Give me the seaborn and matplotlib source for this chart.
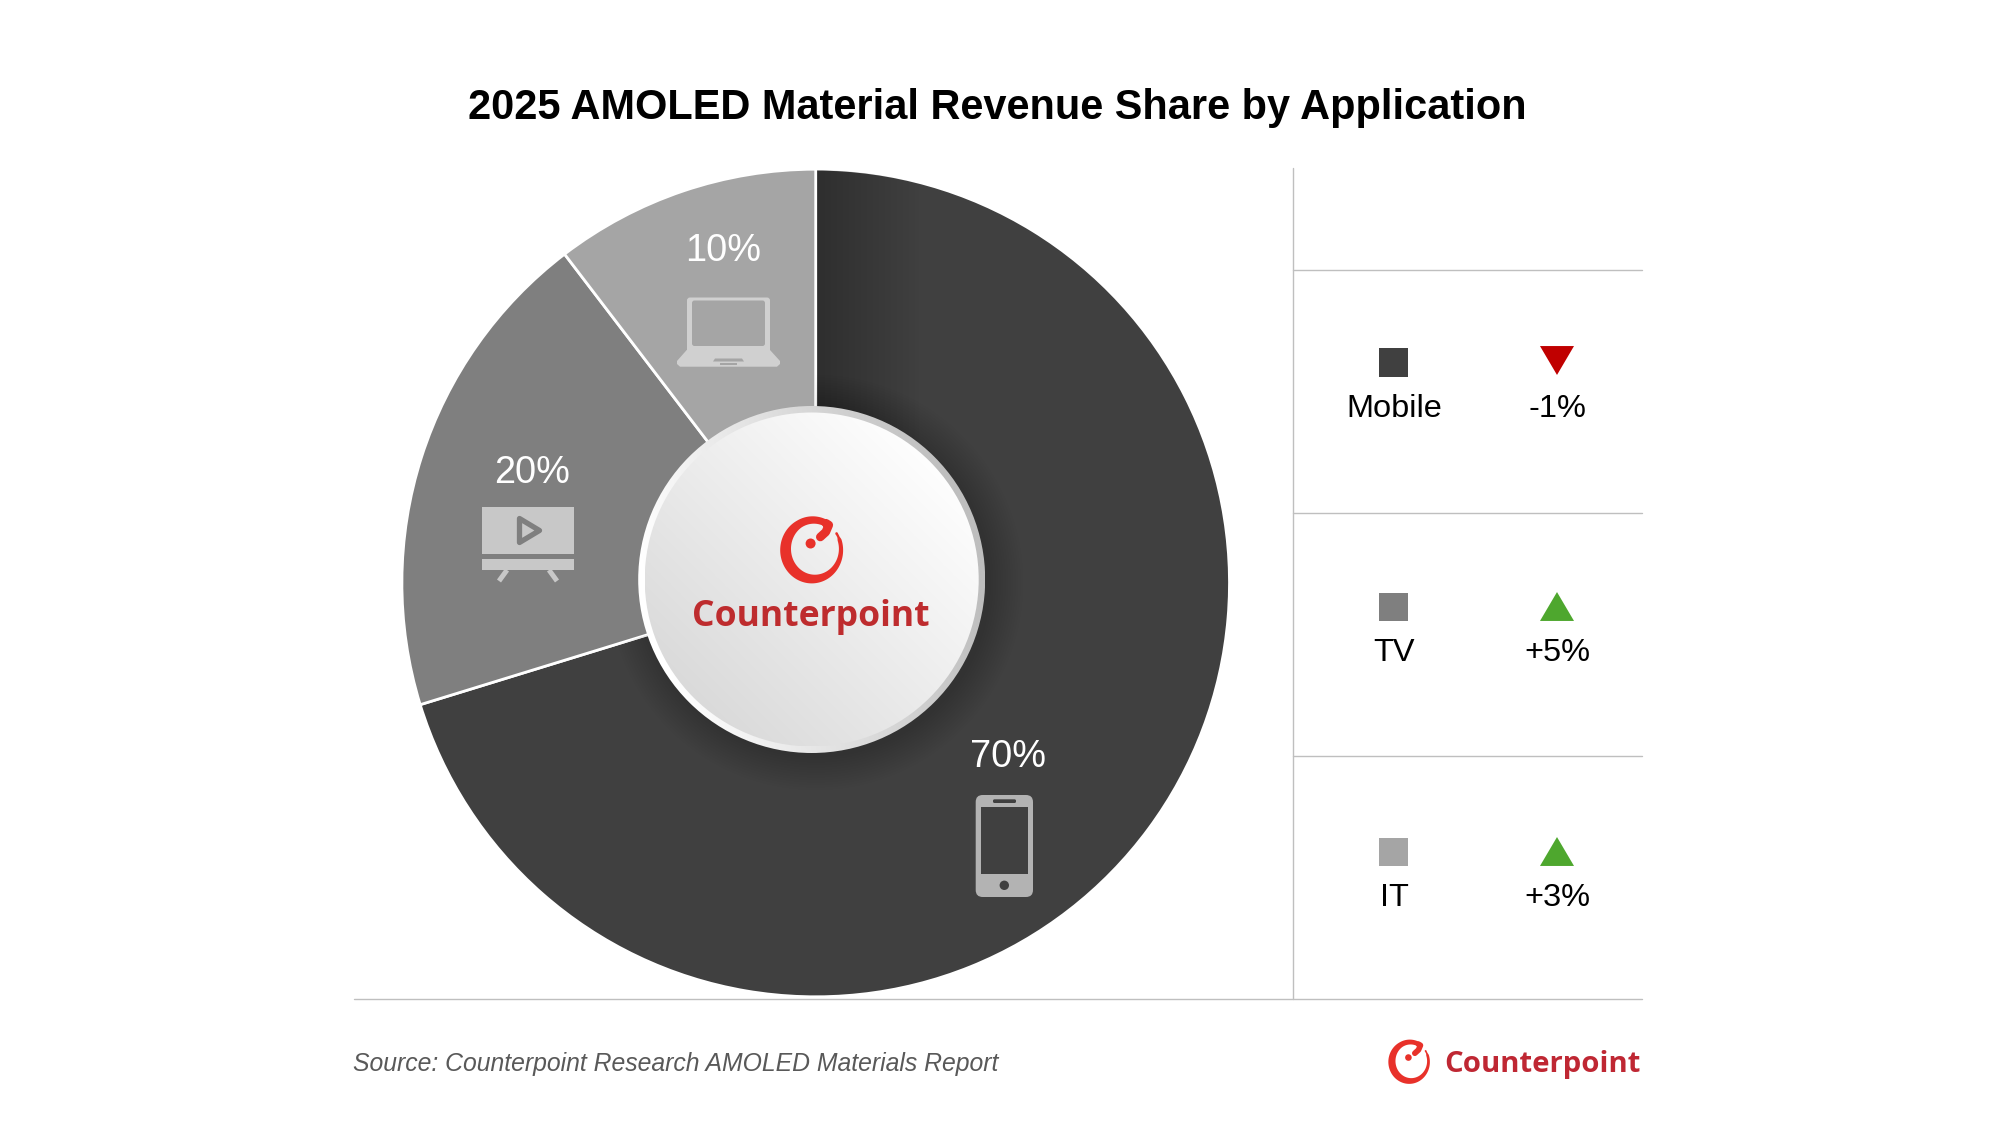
import numpy as np
import pandas as pd
import seaborn as sns
import matplotlib
matplotlib.use("Agg")
import matplotlib.pyplot as plt
from matplotlib.patches import Circle, Polygon, FancyBboxPatch, Rectangle, Wedge
from matplotlib.path import Path
from matplotlib.colors import LinearSegmentedColormap
from matplotlib.markers import MarkerStyle

# ---------- data ----------
title = "2025 AMOLED Material Revenue Share by Application"
source = "Source: Counterpoint Research AMOLED Materials Report"
categories = ["Mobile", "TV", "IT"]
shares = [70, 20, 10]            # printed labels
drawn_shares = [70.25, 19.37, 10.38]  # slice sizes
changes = [-1, 5, 3]
colors = ["#404040", "#7F7F7F", "#A5A5A5"]
brand = "Counterpoint"

W, H = 1997, 1125
sns.set_theme(style="white")
plt.rcParams["font.family"] = ["Liberation Sans", "DejaVu Sans"]
fig = plt.figure(figsize=(W / 100, H / 100), dpi=100, facecolor="white")

# ---------- pie ----------
CX, CY, R = 815.7, 583.0, 413.8
half = R * 1.25
pie_ax = fig.add_axes([(CX - half) / W, (H - CY - half) / H, 2 * half / W, 2 * half / H], zorder=1)
wedges, _ = pie_ax.pie(drawn_shares, colors=colors, startangle=90, counterclock=False, radius=1,
                       wedgeprops=dict(edgecolor="white", linewidth=2.0))
pie_ax.set_xlim(-1.25, 1.25)
pie_ax.set_ylim(-1.25, 1.25)
pie_ax.set_aspect("equal")
pie_ax.axis("off")

# ---------- pixel overlay ----------
ax = fig.add_axes([0, 0, 1, 1], zorder=2)
ax.patch.set_alpha(0)


def lim():
    ax.set_xlim(0, W)
    ax.set_ylim(H, 0)
    ax.set_xlabel("")
    ax.set_ylabel("")
    ax.set_axis_off()


lim()

# the overlay's y axis runs downward, so this wedge's angles run clockwise from the right
mobile_sweep = drawn_shares[0] * 3.6
mobile_clip = Wedge((CX, CY), R - 1.5, 270, 270 + mobile_sweep, transform=ax.transData)

# soft shade along the top of the mobile slice
grad = np.zeros((2, 200, 4))
grad[..., 3] = np.linspace(0.27, 0, 200)
im = ax.imshow(grad, extent=(CX + 1.5, CX + 105, CY, CY - R + 1), aspect="auto", zorder=1, interpolation="bilinear")
im.set_clip_path(Wedge((CX, CY), R - 1, 270, 360, transform=ax.transData))

# hub
HX, HY, HR, HI = 811.7, 579.5, 173.5, 167.0
for k in range(14):
    halo = Circle((HX + 4, HY + 3), HR + 34 - k * 2.5, fc="black", ec="none", alpha=0.007, zorder=2)
    ax.add_patch(halo)
    halo.set_clip_path(Wedge((CX, CY), R - 1.5, 270, 270 + mobile_sweep, transform=ax.transData))


def grad_disc(cx, cy, r, c0, c1, wx, wy, z):
    yy, xx = np.mgrid[-1:1:300j, -1:1:300j]
    t = (xx * wx - yy * wy) / (abs(wx) + abs(wy))
    t = (t + 1) / 2
    cmap = LinearSegmentedColormap.from_list("g", [c0, c1])
    im = ax.imshow(t, extent=(cx - r, cx + r, cy + r, cy - r), cmap=cmap, vmin=0.12, vmax=0.88,
                   aspect="auto", zorder=z, interpolation="bilinear")
    im.set_clip_path(Circle((cx, cy), r, transform=ax.transData))


grad_disc(HX, HY, HR, "#FFFFFF", "#BEBEBE", 1.0, 0.25, 3)
grad_disc(HX, HY, HI, "#D9D9D9", "#FFFFFF", 1.0, 1.0, 4)


def logo(cx, cy, s, z=5):
    red = "#E8312A"
    rx, ry = 27.7 * s, 29.5 * s
    th_d = np.linspace(33, -297, 160)
    th = np.radians(th_d)
    w = (7.5 + 3.5 * np.cos(th - np.radians(200))) * s
    w = w * np.clip((33 - th_d) / 14, 0.6, 1)
    w = w + np.clip((th_d + 240) / -57, 0, 1) * 2.0 * s
    xo = cx + (rx + w / 2) * np.cos(th)
    yo = cy - (ry + w / 2) * np.sin(th)
    xi = cx + (rx - w / 2) * np.cos(th)
    yi = cy - (ry - w / 2) * np.sin(th)
    ax.add_patch(Polygon(np.c_[np.r_[xo, xi[::-1]], np.r_[yo, yi[::-1]]], closed=True, fc=red, ec="none", zorder=z))
    ax.add_patch(Circle(((xo[0] + xi[0]) / 2, (yo[0] + yi[0]) / 2), w[0] / 2, fc=red, ec="none", zorder=z))
    hx = [(xo[-1] + xi[-1]) / 2, cx + 15.5 * s, cx + 12.5 * s, cx + 7.0 * s]
    hy = [(yo[-1] + yi[-1]) / 2, cy - 24.5 * s, cy - 17.5 * s, cy - 12.5 * s]
    ax.plot(hx, hy, color=red, lw=6.2 * s, solid_capstyle="round", solid_joinstyle="round", zorder=z)
    ax.add_patch(Circle((cx - 2.7 * s, cy - 6.0 * s), 5.0 * s, fc=red, ec="none", zorder=z))


logo(813.3, 549.5, 1.0)
ax.text(811, 626, brand, ha="center", va="baseline", color="#BE2C2E", fontsize=25.6, fontweight="bold",
        family="Open Sans", zorder=5)
logo(1410.2, 1061.5, 0.66)
ax.text(1444, 1072, brand, ha="left", va="baseline", color="#BF2733", fontsize=21.1, fontweight="bold",
        family="Open Sans", zorder=5)

# rules
RULE = "#BFBFBF"
rule_y = [270, 513, 756]
for y in rule_y:
    ax.plot([1293, 1642], [y, y], color=RULE, lw=1.0, zorder=1)
ax.plot([354, 1642], [999, 999], color=RULE, lw=1.0, zorder=1)
ax.plot([1292.7, 1292.7], [168, 999], color=RULE, lw=1.0, zorder=1)

# title and source
ax.text(997.5, 119, title, ha="center", va="baseline", fontsize=29.9, fontweight="bold", color="black")
ax.text(353, 1070.5, source, ha="left", va="baseline", fontsize=17.83, style="italic", color="#595959")

# percent labels on the slices
label_xy = [(1008.5, 767), (532, 483), (723, 261)]
for s, (x, y) in zip(shares, label_xy):
    ax.text(x, y, f"{s}%", ha="center", va="baseline", color="white", fontsize=27.3, zorder=5)

# phone icon
PH = "#B3B3B3"
ax.add_patch(FancyBboxPatch((975.7 + 5, 795 + 5), 57.3 - 10, 102 - 10, boxstyle="round,pad=5,rounding_size=7", fc=PH,
                            ec="none", zorder=5))
ax.add_patch(Rectangle((981, 807), 46.7, 66.7, fc=colors[0], ec="none", zorder=6))
ax.add_patch(FancyBboxPatch((993, 799.3), 23, 3.7, boxstyle="round,pad=0,rounding_size=1.5", fc=colors[0], ec="none",
                            zorder=6))
ax.add_patch(Circle((1004.3, 885.3), 4.7, fc=colors[0], ec="none", zorder=6))

# laptop icon
LT = "#D0D0D0"
ax.add_patch(FancyBboxPatch((689, 299.5), 79, 55, boxstyle="round,pad=2,rounding_size=3", fc=LT, ec="none", zorder=5))
ax.add_patch(Polygon([(686.7, 350), (770, 350), (780, 361), (780, 364), (777, 366.7), (680, 366.7), (677, 364), (677, 361)],
                     closed=True, fc=LT, ec="none", zorder=5))
ax.add_patch(FancyBboxPatch((693.5, 302), 70, 42.5, boxstyle="round,pad=1.5,rounding_size=2.5", fc=colors[2], ec="none",
                            zorder=6))
ax.add_patch(Polygon([(715, 358.5), (742, 358.5), (744, 361.5), (713, 361.5)], closed=True, fc=colors[2], ec="none", zorder=6))
ax.add_patch(Rectangle((720, 363), 17, 2, fc=colors[2], ec="none", zorder=6))

# TV icon
TV = "#C8C8C8"
ax.add_patch(Rectangle((481.7, 506.7), 92.3, 47.3, fc=TV, ec="none", zorder=5))
ax.add_patch(Rectangle((481.7, 559.3), 92.3, 11, fc=TV, ec="none", zorder=5))
ax.plot([507, 499], [570, 581], color=TV, lw=3.6, solid_capstyle="butt", zorder=5)
ax.plot([549, 557], [570, 581], color=TV, lw=3.6, solid_capstyle="butt", zorder=5)
ax.add_patch(Polygon([(519.5, 518.5), (519.5, 542.5), (539.5, 530.5)], closed=True, fc=TV, ec=colors[1], lw=3.8,
                     joinstyle="round", zorder=6))

# table of changes on the right: squares and triangles through seaborn
row_y = np.array([362.5, 607.0, 852.0])
table = pd.DataFrame({"category": categories, "change": changes, "y": row_y})
table["x_sq"] = 1393.5
table["x_tri"] = 1557.0
table["y_tri"] = table["y"] + np.where(table["change"] < 0, -2.0, -0.5)
table["dir"] = np.where(table["change"] < 0, "down", "up")

sns.scatterplot(data=table, x="x_sq", y="y", hue="category", palette=dict(zip(categories, colors)), marker="s", s=420,
                linewidth=0, legend=False, ax=ax, zorder=5)
up = Path([(-1, -0.85), (1, -0.85), (0, 0.85), (-1, -0.85)], closed=True)
down = Path([(-1, 0.85), (1, 0.85), (0, -0.85), (-1, 0.85)], closed=True)
sns.scatterplot(data=table, x="x_tri", y="y_tri", hue="dir", palette={"up": "#4EA72E", "down": "#C00000"}, style="dir",
                markers={"up": MarkerStyle(up), "down": MarkerStyle(down)}, s=600, linewidth=0, legend=False, ax=ax, zorder=5)
lim()

for cat, ch, y in zip(categories, changes, [417, 661, 905.5]):
    ax.text(1394, y, cat, ha="center", va="baseline", fontsize=23.4, color="black", zorder=5)
    ax.text(1557, y, f"{ch:+d}%", ha="center", va="baseline", fontsize=23.4, color="black", zorder=5)

fig.savefig("out.png", dpi=100, facecolor="white")
